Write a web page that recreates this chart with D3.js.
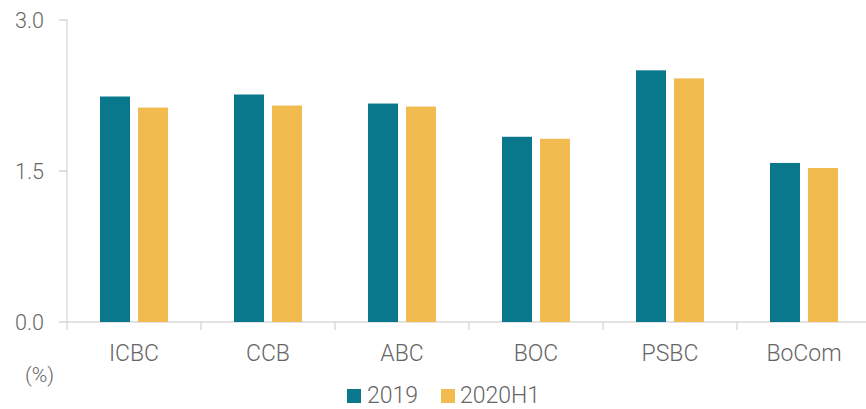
<!DOCTYPE html>
<html><head><meta charset="utf-8">
<script src="https://cdn.jsdelivr.net/npm/d3@7"></script>
<style>body{margin:0;background:#fff}text{font-family:Roboto,sans-serif;font-weight:300;fill:#666}</style>
</head><body><svg id="c" width="866" height="409"></svg>
<script>
const categories = ["ICBC","CCB","ABC","BOC","PSBC","BoCom"];
const seriesNames = ["2019","2020H1"];
const values2019 = [2.24,2.26,2.17,1.84,2.50,1.58];
const values2020H1 = [2.13,2.15,2.14,1.82,2.42,1.53];
const yTicks = [0,1.5,3.0];
const colors = ["#0a788c","#f1bb50"];

const svg = d3.select("#c");
const x0 = 67, yTop = 20, yBase = 322;
const x = d3.scaleBand().domain(categories).range([x0, x0+134*6]).paddingInner(0).paddingOuter(0);
const y = d3.scaleLinear().domain([0,3]).range([yBase, yTop]);
const series = [values2019, values2020H1];

svg.append("line").attr("x1",x0).attr("x2",x0).attr("y1",yTop).attr("y2",330).attr("stroke","#d4d4d4").attr("stroke-width",1.2);
svg.append("line").attr("x1",x0).attr("x2",866).attr("y1",yBase).attr("y2",yBase).attr("stroke","#c8c8c8").attr("stroke-width",1.2);
yTicks.forEach(t=>{
  svg.append("line").attr("x1",59).attr("x2",x0).attr("y1",y(t)).attr("y2",y(t)).attr("stroke","#c8c8c8").attr("stroke-width",1.2);
  svg.append("text").attr("x",44).attr("y",y(t)+7.5).attr("text-anchor","end").style("font-size","21.5px").text(t.toFixed(1));
});
categories.forEach((c,i)=>{
  if(i>0) svg.append("line").attr("x1",x(c)).attr("x2",x(c)).attr("y1",yBase).attr("y2",330).attr("stroke","#d4d4d4").attr("stroke-width",1.2);
  svg.append("text").attr("x",x(c)+x.bandwidth()/2).attr("y",361).attr("text-anchor","middle").style("font-size","23px").text(c);
});
const barW = 30, gap = 8;
series.forEach((vals,s)=>{
  svg.append("g").selectAll("rect").data(vals).join("rect")
    .attr("x",(d,i)=>x(categories[i])+x.bandwidth()/2 + (s===0 ? -gap/2-barW : gap/2))
    .attr("width",barW)
    .attr("y",d=>y(d)).attr("height",d=>yBase-y(d))
    .attr("fill",colors[s]);
});
svg.append("text").attr("x",25).attr("y",382).style("font-size","21px").text("(%)");
const lg = [{x:347,tx:367},{x:441,tx:460}];
seriesNames.forEach((n,i)=>{
  svg.append("rect").attr("x",lg[i].x).attr("y",389).attr("width",14).attr("height",14).attr("fill",colors[i]);
  svg.append("text").attr("x",lg[i].tx).attr("y",403).style("font-size","23px").text(n);
});
</script></body></html>
